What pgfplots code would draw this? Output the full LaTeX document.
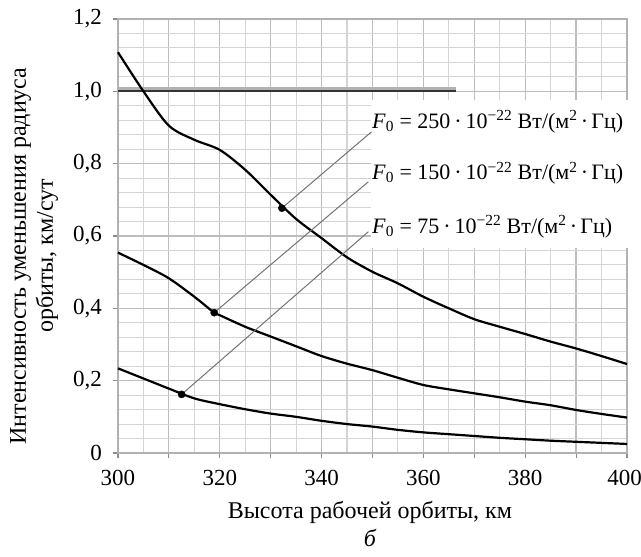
\documentclass[border=0pt]{standalone}
\usepackage{fontspec}
\setmainfont{Liberation Serif}
\usepackage{pgfplots}
\pgfplotsset{compat=1.18}

\newcommand{\flabel}[1]{\textit{F}\textsubscript{0}\hspace{0.25em}=\hspace{0.25em}#1\hspace{0.18em}·\hspace{0.18em}10\textsuperscript{−22}~Вт/(м\textsuperscript{2}\hspace{0.15em}·\hspace{0.15em}Гц)}

\begin{document}
\fontsize{24}{28}\selectfont
\begin{tikzpicture}
\begin{axis}[
    name=ax,
    scale only axis,
    width=509pt, height=434pt,
    xmin=300, xmax=400, ymin=0, ymax=1.2,
    xtick={300,310,320,330,340,350,360,370,380,390,400},
    xticklabels={300,,320,,340,,360,,380,,{\makebox[0pt][c]{400\hspace{5pt}}}},
    ytick={0,0.2,0.4,0.6,0.8,1.0,1.2},
    yticklabels={0,{0,2},{0,4},{0,6},{0,8},{1,0},{1,2}},
    minor x tick num=1,
    minor y tick num=4,
    grid=both,
    major grid style={black!26, line width=1.2pt},
    minor grid style={black!17, line width=1.1pt},
    axis line style={black!30, line width=1.2pt},
    tick align=outside,
    tick pos=left,
    major tick length=5pt,
    minor tick length=0pt,
    tick style={black!45, line width=1.1pt},
    tick label style={font=\fontsize{23}{27}\selectfont, inner sep=0pt},
    xticklabel style={anchor=north, yshift=-12pt},
    yticklabel style={anchor=east, xshift=-11pt},
    clip=false,
]
% white field behind the labels
\fill[white] (axis cs:349.7,0.567) rectangle (axis cs:403,0.976);

% constraint line at 1.0
\addplot[draw=black!30, line width=4pt, forget plot] coordinates {(300,1.007) (366.5,1.007)};
\addplot[draw=black!80, line width=1.8pt] coordinates {(300,1.0) (366.5,1.0)};

% F0 = 250
\addplot[black, line width=2.2pt, smooth] coordinates {
 (300,1.108) (305,1.000) (310,0.905) (315,0.866) (320,0.838) (325,0.783)
 (330,0.714) (335,0.647) (340,0.594) (345,0.541) (350,0.501) (355,0.469)
 (360,0.432) (365,0.400) (370,0.370) (375,0.349) (380,0.329) (385,0.308)
 (390,0.289) (395,0.268) (400,0.246)
};
% F0 = 150
\addplot[black, line width=2.2pt, smooth] coordinates {
 (300,0.554) (305,0.520) (310,0.483) (315,0.432) (318.9,0.388) (320,0.381)
 (325,0.349) (330,0.322) (335,0.295) (340,0.268) (345,0.247) (350,0.229)
 (355,0.208) (360,0.188) (365,0.176) (370,0.165) (375,0.154) (380,0.142)
 (385,0.132) (390,0.119) (395,0.108) (400,0.098)
};
% F0 = 75
\addplot[black, line width=2.2pt, smooth] coordinates {
 (300,0.234) (305,0.206) (310,0.178) (315,0.151) (320,0.135) (325,0.121)
 (330,0.109) (335,0.100) (340,0.089) (345,0.080) (350,0.073) (355,0.064)
 (360,0.057) (365,0.052) (370,0.047) (375,0.042) (380,0.038) (385,0.034)
 (390,0.031) (395,0.028) (400,0.025)
};

% leader lines
\addplot[black!55, line width=1pt] coordinates {(332.2,0.677) (349.8,0.888)};
\addplot[black!55, line width=1pt] coordinates {(318.9,0.388) (349.2,0.750)};
\addplot[black!55, line width=1pt] coordinates {(312.5,0.162) (349.2,0.612)};

% marked points
\addplot[only marks, mark=*, mark size=3.6pt, black] coordinates {
 (332.2,0.677) (318.9,0.388) (312.5,0.162)
};

\node[anchor=west, inner sep=0pt, font=\fontsize{22}{26}\selectfont] at (axis cs:349.9,0.916) {\flabel{250}};
\node[anchor=west, inner sep=0pt, font=\fontsize{22}{26}\selectfont] at (axis cs:349.9,0.774) {\flabel{150}};
\node[anchor=west, inner sep=0pt, font=\fontsize{22}{26}\selectfont] at (axis cs:349.9,0.625) {\flabel{75}};

\node[rotate=90, align=center, font=\fontsize{24}{27}\selectfont] at (axis cs:283.5,0.545)
  {Интенсивность уменьшения радиуса\\орбиты, км/сут};
\node[font=\fontsize{24}{28}\selectfont] at (axis cs:349.5,-0.165) {Высота рабочей орбиты, км};
\node[font=\fontsize{24}{28}\selectfont\itshape] at (axis cs:349.5,-0.236) {б};
\end{axis}
\pgfresetboundingbox
\path (ax.south west) ++(-118pt,-104pt) rectangle ++(641pt,557pt);
\end{tikzpicture}
\end{document}
